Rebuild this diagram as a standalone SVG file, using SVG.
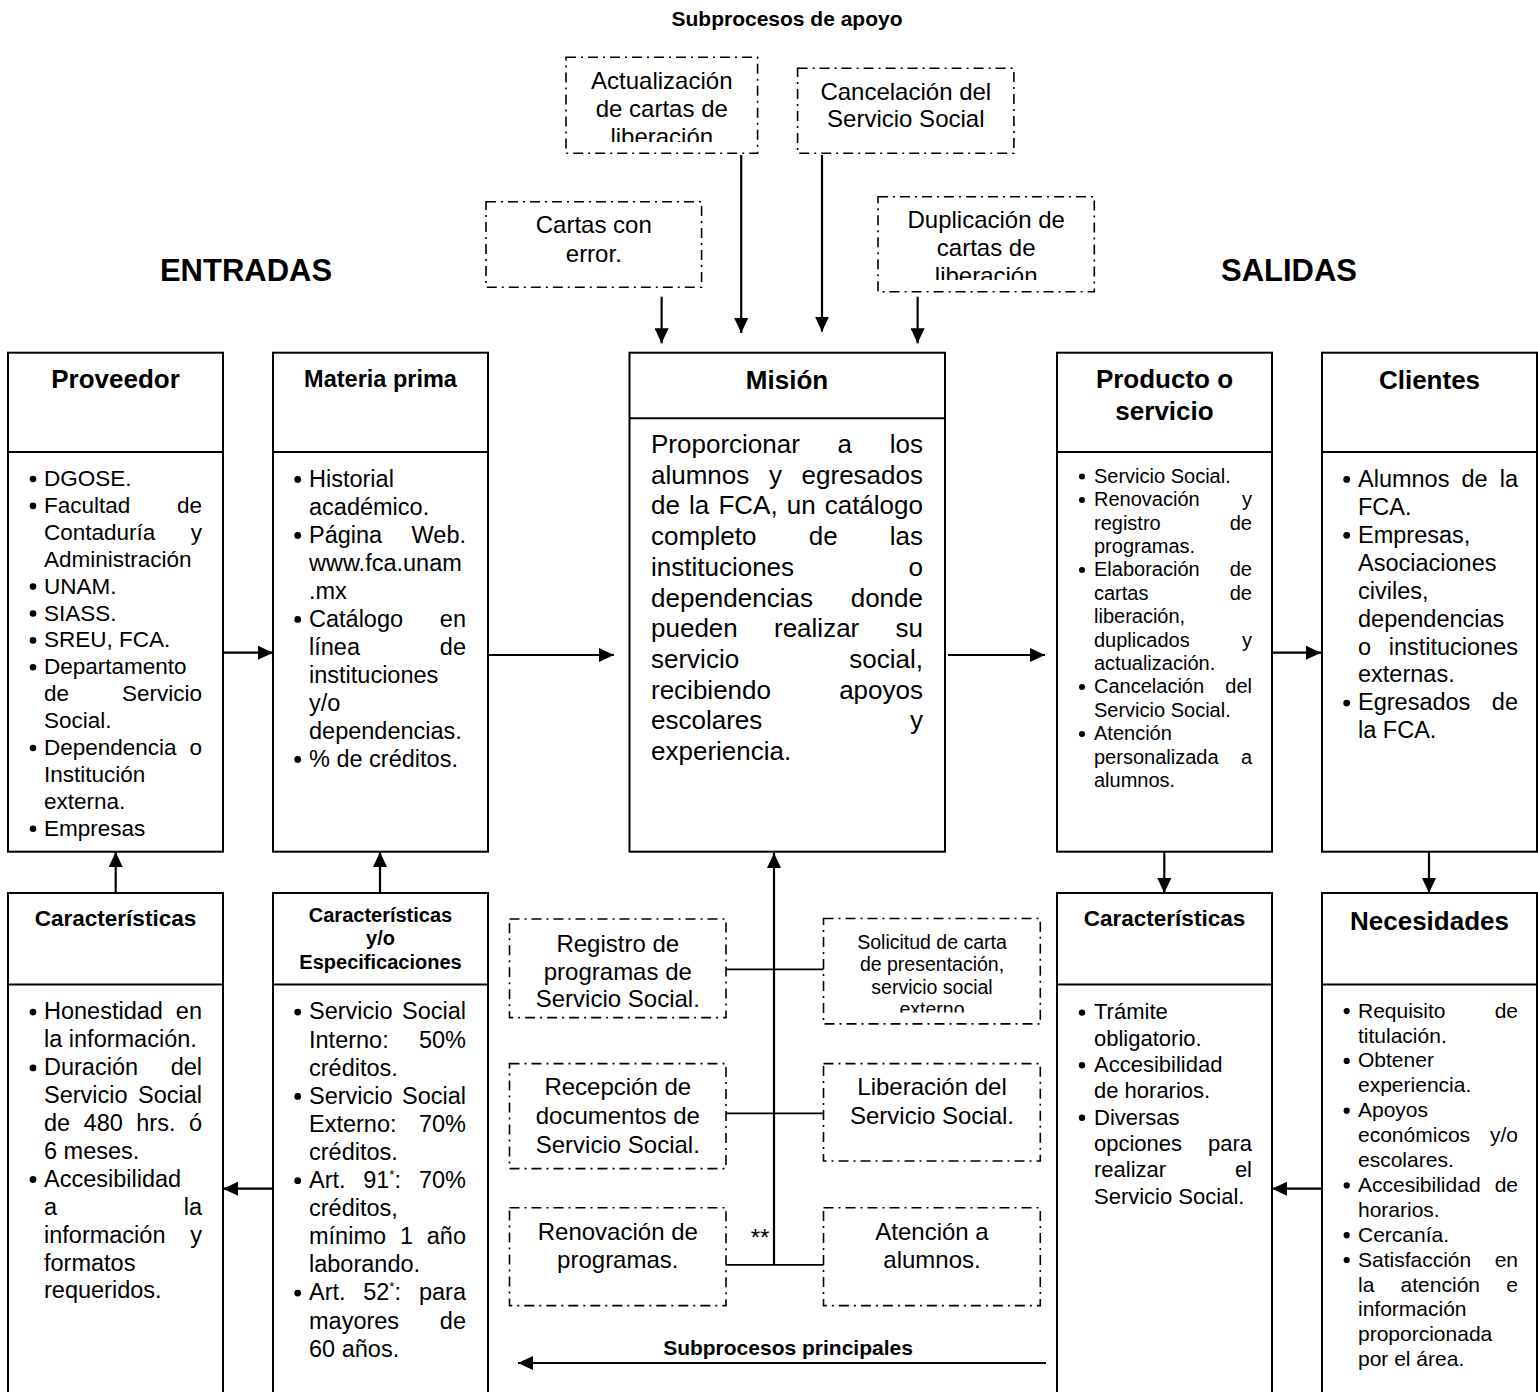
<svg xmlns="http://www.w3.org/2000/svg" width="1538" height="1392" viewBox="0 0 1538 1392">
<style>
  text { font-family: "Liberation Sans", Arial, sans-serif; fill: #000; }
  .b { font-weight: bold; }
  .c { text-anchor: middle; }
  .e { text-anchor: end; }
  .box { fill: #fff; stroke: #000; stroke-width: 2; }
  .div { stroke: #000; stroke-width: 2; }
  .dash { fill: #fff; stroke: #000; stroke-width: 1.6; stroke-dasharray: 10 5 2 5; }
  .ln { fill: none; stroke: #000; stroke-width: 2.2; }
  .thin { fill: none; stroke: #000; stroke-width: 1.8; }
  .arr { marker-end: url(#ah); }
  .f26 { font-size: 26px; }
  .f235 { font-size: 23.5px; }
  .f225 { font-size: 22.5px; }
  .f22 { font-size: 22px; }
  .f21 { font-size: 21px; }
  .f20 { font-size: 20px; }
  .f24 { font-size: 24px; }
  .f195 { font-size: 19.5px; }
</style>
<defs>
  <marker id="ah" markerUnits="userSpaceOnUse" markerWidth="15" markerHeight="14" refX="15" refY="7" orient="auto">
    <path d="M0,0 L15,7 L0,14 Z" fill="#000"/>
  </marker>
  <clipPath id="clipAct"><rect x="566" y="57" width="191" height="85"/></clipPath>
  <clipPath id="clipDup"><rect x="879" y="197" width="214" height="83"/></clipPath>
  <clipPath id="clipSol"><rect x="824" y="919" width="216" height="93.5"/></clipPath>
</defs>
<rect width="1538" height="1392" fill="#fff"/>

<!-- headings -->
<text class="b c" x="787" y="26" font-size="21">Subprocesos de apoyo</text>
<text class="b c" x="246" y="281" font-size="31">ENTRADAS</text>
<text class="b c" x="1289" y="281" font-size="31">SALIDAS</text>

<!-- connectors -->
<g id="connectors">
  <path class="ln arr" d="M661.6,296.7 V343.3"/>
  <path class="ln arr" d="M741.2,155 V333"/>
  <path class="ln arr" d="M822,155 V331.7"/>
  <path class="ln arr" d="M917.6,296.7 V343.3"/>
  <path class="ln arr" d="M223,652.7 H273"/>
  <path class="ln arr" d="M488,655 H614"/>
  <path class="ln arr" d="M948,655 H1045"/>
  <path class="ln arr" d="M1272,652.7 H1321"/>
  <path class="ln arr" d="M115.7,893 V852"/>
  <path class="ln arr" d="M380,893 V852"/>
  <path class="ln arr" d="M1164.3,852 V893"/>
  <path class="ln arr" d="M1429,852 V893"/>
  <path class="ln arr" d="M273,1188.7 H223"/>
  <path class="ln arr" d="M1322,1188.7 H1272"/>
  <path class="ln arr" d="M1046,1363 H518"/>
  <path class="ln arr" d="M774,1265 V853" stroke-width="2.6"/>
  <path class="thin" d="M726,969.3 H824 M726,1113.4 H824 M726,1264.8 H824"/>
  <text x="760" y="1246" class="c" font-size="24">**</text>
  <text class="b c" x="788" y="1355.4" font-size="21">Subprocesos principales</text>
</g>

<!-- support subprocesses -->
<g id="actualizacion">
  <rect class="dash" x="566" y="57.3" width="191.6" height="96"/>
  <g clip-path="url(#clipAct)" class="f24">
    <text class="c" x="661.8" y="89.3">Actualización</text>
    <text class="c" x="661.8" y="117.3">de cartas de</text>
    <text class="c" x="661.8" y="145.3">liberación</text>
  </g>
</g>
<g id="cancelacion">
  <rect class="dash" x="797.6" y="68.3" width="216.3" height="85"/>
  <text class="c f24" x="905.8" y="100">Cancelación del</text>
  <text class="c f24" x="905.8" y="127.3">Servicio Social</text>
</g>
<g id="cartas-error">
  <rect class="dash" x="486" y="201.7" width="215.6" height="85.6"/>
  <text class="c f24" x="593.8" y="233.3">Cartas con</text>
  <text class="c f24" x="593.8" y="261.7">error.</text>
</g>
<g id="duplicacion">
  <rect class="dash" x="878" y="196.7" width="216.3" height="95"/>
  <g clip-path="url(#clipDup)" class="f24">
    <text class="c" x="986.2" y="228.3">Duplicación de</text>
    <text class="c" x="986.2" y="256">cartas de</text>
    <text class="c" x="986.2" y="283.7">liberación</text>
  </g>
</g>

<!-- Proveedor -->
<g id="proveedor">
  <rect class="box" x="8" y="352.7" width="215" height="499"/>
  <line class="div" x1="8" y1="452" x2="223" y2="452"/>
  <text class="b c f26" x="115.5" y="388.3">Proveedor</text>
  <g class="f225" fill="#000">
    <circle cx="33" cy="479" r="3.3"/><text x="44" y="486">DGOSE.</text>
    <circle cx="33" cy="505.9" r="3.3"/><text x="44" y="512.9">Facultad</text><text class="e" x="202" y="512.9">de</text>
    <text x="44" y="539.8">Contaduría</text><text class="e" x="202" y="539.8">y</text>
    <text x="44" y="566.7">Administración</text>
    <circle cx="33" cy="586.6" r="3.3"/><text x="44" y="593.6">UNAM.</text>
    <circle cx="33" cy="613.5" r="3.3"/><text x="44" y="620.5">SIASS.</text>
    <circle cx="33" cy="640.4" r="3.3"/><text x="44" y="647.4">SREU, FCA.</text>
    <circle cx="33" cy="667.3" r="3.3"/><text x="44" y="674.3">Departamento</text>
    <text x="44" y="701.2">de</text><text class="e" x="202" y="701.2">Servicio</text>
    <text x="44" y="728.1">Social.</text>
    <circle cx="33" cy="748" r="3.3"/><text x="44" y="755">Dependencia</text><text class="e" x="202" y="755">o</text>
    <text x="44" y="781.9">Institución</text>
    <text x="44" y="808.8">externa.</text>
    <circle cx="33" cy="828.7" r="3.3"/><text x="44" y="835.7">Empresas</text>
  </g>
</g>

<!-- Materia prima -->
<g id="materia-prima">
  <rect class="box" x="273" y="352.7" width="215" height="499"/>
  <line class="div" x1="273" y1="452" x2="488" y2="452"/>
  <text class="b c" x="380.5" y="386.7" font-size="23.5">Materia prima</text>
  <g class="f235" fill="#000">
    <circle cx="297.7" cy="479.4" r="3.4"/><text x="309" y="486.7">Historial</text>
    <text x="309" y="514.7">académico.</text>
    <circle cx="297.7" cy="535.4" r="3.4"/><text x="309" y="542.7">Página</text><text class="e" x="466" y="542.7">Web.</text>
    <text x="309" y="570.7">www.fca.unam</text>
    <text x="309" y="598.7">.mx</text>
    <circle cx="297.7" cy="619.4" r="3.4"/><text x="309" y="626.7">Catálogo</text><text class="e" x="466" y="626.7">en</text>
    <text x="309" y="654.7">línea</text><text class="e" x="466" y="654.7">de</text>
    <text x="309" y="682.7">instituciones</text>
    <text x="309" y="710.7">y/o</text>
    <text x="309" y="738.7">dependencias.</text>
    <circle cx="297.7" cy="759.4" r="3.4"/><text x="309" y="766.7">% de créditos.</text>
  </g>
</g>

<!-- Misión -->
<g id="mision">
  <rect class="box" x="629.5" y="352.7" width="315.5" height="499"/>
  <line class="div" x1="629.5" y1="418.3" x2="945" y2="418.3"/>
  <text class="b c f26" x="787" y="389">Misión</text>
  <g class="f26">
    <text x="651" y="453">Proporcionar</text><text x="837.6" y="453">a</text><text class="e" x="923" y="453">los</text>
    <text x="651" y="483.7">alumnos</text><text x="768.9" y="483.7">y</text><text class="e" x="923" y="483.7">egresados</text>
    <text x="651" y="514.4">de</text><text x="689" y="514.4">la</text><text x="718.4" y="514.4">FCA,</text><text x="786.7" y="514.4">un</text><text class="e" x="923" y="514.4">catálogo</text>
    <text x="651" y="545.1">completo</text><text x="808.7" y="545.1">de</text><text class="e" x="923" y="545.1">las</text>
    <text x="651" y="575.8">instituciones</text><text class="e" x="923" y="575.8">o</text>
    <text x="651" y="606.5">dependencias</text><text class="e" x="923" y="606.5">donde</text>
    <text x="651" y="637.2">pueden</text><text x="774" y="637.2">realizar</text><text class="e" x="923" y="637.2">su</text>
    <text x="651" y="667.9">servicio</text><text class="e" x="923" y="667.9">social,</text>
    <text x="651" y="698.6">recibiendo</text><text class="e" x="923" y="698.6">apoyos</text>
    <text x="651" y="729.3">escolares</text><text class="e" x="923" y="729.3">y</text>
    <text x="651" y="760">experiencia.</text>
  </g>
</g>

<!-- Producto o servicio -->
<g id="producto">
  <rect class="box" x="1057" y="352.7" width="215" height="499"/>
  <line class="div" x1="1057" y1="452" x2="1272" y2="452"/>
  <text class="b c f26" x="1164.5" y="388.3">Producto o</text>
  <text class="b c f26" x="1164.5" y="420">servicio</text>
  <g class="f20" fill="#000">
    <circle cx="1082" cy="476.5" r="3"/><text x="1094" y="482.7">Servicio Social.</text>
    <circle cx="1082" cy="499.9" r="3"/><text x="1094" y="506.1">Renovación</text><text class="e" x="1252" y="506.1">y</text>
    <text x="1094" y="529.5">registro</text><text class="e" x="1252" y="529.5">de</text>
    <text x="1094" y="552.9">programas.</text>
    <circle cx="1082" cy="570.1" r="3"/><text x="1094" y="576.3">Elaboración</text><text class="e" x="1252" y="576.3">de</text>
    <text x="1094" y="599.7">cartas</text><text class="e" x="1252" y="599.7">de</text>
    <text x="1094" y="623.1">liberación,</text>
    <text x="1094" y="646.5">duplicados</text><text class="e" x="1252" y="646.5">y</text>
    <text x="1094" y="669.9">actualización.</text>
    <circle cx="1082" cy="687.1" r="3"/><text x="1094" y="693.3">Cancelación</text><text class="e" x="1252" y="693.3">del</text>
    <text x="1094" y="716.7">Servicio Social.</text>
    <circle cx="1082" cy="733.9" r="3"/><text x="1094" y="740.1">Atención</text>
    <text x="1094" y="763.5">personalizada</text><text class="e" x="1252" y="763.5">a</text>
    <text x="1094" y="786.9">alumnos.</text>
  </g>
</g>

<!-- Clientes -->
<g id="clientes">
  <rect class="box" x="1322" y="352.7" width="215" height="499"/>
  <line class="div" x1="1322" y1="452" x2="1537" y2="452"/>
  <text class="b c f26" x="1429.5" y="389.3">Clientes</text>
  <g class="f235" fill="#000">
    <circle cx="1346.7" cy="479.4" r="3.4"/><text x="1358" y="486.7">Alumnos</text><text x="1461.5" y="486.7">de</text><text class="e" x="1518" y="486.7">la</text>
    <text x="1358" y="514.7">FCA.</text>
    <circle cx="1346.7" cy="535.3" r="3.4"/><text x="1358" y="542.6">Empresas,</text>
    <text x="1358" y="570.6">Asociaciones</text>
    <text x="1358" y="598.5">civiles,</text>
    <text x="1358" y="626.5">dependencias</text>
    <text x="1358" y="654.5">o</text><text class="e" x="1518" y="654.5">instituciones</text>
    <text x="1358" y="682.4">externas.</text>
    <circle cx="1346.7" cy="703.1" r="3.4"/><text x="1358" y="710.4">Egresados</text><text class="e" x="1518" y="710.4">de</text>
    <text x="1358" y="738.3">la FCA.</text>
  </g>
</g>

<!-- Características (entradas) -->
<g id="caracteristicas-proveedor">
  <rect class="box" x="8" y="893" width="215" height="520"/>
  <line class="div" x1="8" y1="984.5" x2="223" y2="984.5"/>
  <text class="b c f225" x="115.5" y="926">Características</text>
  <g class="f235" fill="#000">
    <circle cx="33" cy="1012.1" r="3.4"/><text x="44" y="1019.4">Honestidad</text><text class="e" x="202" y="1019.4">en</text>
    <text x="44" y="1047.3">la información.</text>
    <circle cx="33" cy="1067.9" r="3.4"/><text x="44" y="1075.2">Duración</text><text class="e" x="202" y="1075.2">del</text>
    <text x="44" y="1103.1">Servicio</text><text class="e" x="202" y="1103.1">Social</text>
    <text x="44" y="1131">de</text><text x="83.6" y="1131">480</text><text x="136.3" y="1131">hrs.</text><text class="e" x="202" y="1131">ó</text>
    <text x="44" y="1158.9">6 meses.</text>
    <circle cx="33" cy="1179.5" r="3.4"/><text x="44" y="1186.8">Accesibilidad</text>
    <text x="44" y="1214.7">a</text><text class="e" x="202" y="1214.7">la</text>
    <text x="44" y="1242.6">información</text><text class="e" x="202" y="1242.6">y</text>
    <text x="44" y="1270.5">formatos</text>
    <text x="44" y="1298.4">requeridos.</text>
  </g>
</g>

<!-- Características y/o Especificaciones -->
<g id="especificaciones">
  <rect class="box" x="273" y="893" width="215" height="520"/>
  <line class="div" x1="273" y1="984.5" x2="488" y2="984.5"/>
  <text class="b c f20" x="380.5" y="921.9">Características</text>
  <text class="b c f20" x="380.5" y="945">y/o</text>
  <text class="b c f20" x="380.5" y="969.3">Especificaciones</text>
  <g class="f235" fill="#000">
    <circle cx="297.7" cy="1012.1" r="3.4"/><text x="309" y="1019.4">Servicio</text><text class="e" x="466" y="1019.4">Social</text>
    <text x="309" y="1047.5">Interno:</text><text class="e" x="466" y="1047.5">50%</text>
    <text x="309" y="1075.6">créditos.</text>
    <circle cx="297.7" cy="1096.4" r="3.4"/><text x="309" y="1103.7">Servicio</text><text class="e" x="466" y="1103.7">Social</text>
    <text x="309" y="1131.8">Externo:</text><text class="e" x="466" y="1131.8">70%</text>
    <text x="309" y="1159.9">créditos.</text>
    <circle cx="297.7" cy="1180.7" r="3.4"/><text x="309" y="1188">Art.</text><text x="363.2" y="1188">91<tspan font-size="13" dy="-9">*</tspan><tspan dy="9">:</tspan></text><text class="e" x="466" y="1188">70%</text>
    <text x="309" y="1216.1">créditos,</text>
    <text x="309" y="1244.2">mínimo</text><text x="399.9" y="1244.2">1</text><text class="e" x="466" y="1244.2">año</text>
    <text x="309" y="1272.3">laborando.</text>
    <circle cx="297.7" cy="1293.1" r="3.4"/><text x="309" y="1300.4">Art.</text><text x="363.2" y="1300.4">52<tspan font-size="13" dy="-9">*</tspan><tspan dy="9">:</tspan></text><text class="e" x="466" y="1300.4">para</text>
    <text x="309" y="1328.5">mayores</text><text class="e" x="466" y="1328.5">de</text>
    <text x="309" y="1356.6">60 años.</text>
  </g>
</g>

<!-- main subprocesses -->
<g id="registro">
  <rect class="dash" x="509.5" y="919" width="216.5" height="98.6"/>
  <text class="c f24" x="617.8" y="952">Registro de</text>
  <text class="c f24" x="617.8" y="979.6">programas de</text>
  <text class="c f24" x="617.8" y="1007">Servicio Social.</text>
</g>
<g id="solicitud">
  <rect class="dash" x="823.5" y="918.5" width="216.8" height="105.4"/>
  <g clip-path="url(#clipSol)" class="f195">
    <text class="c" x="932" y="948.5">Solicitud de carta</text>
    <text class="c" x="932" y="971">de presentación,</text>
    <text class="c" x="932" y="993.5">servicio social</text>
    <text class="c" x="932" y="1016">externo</text>
  </g>
</g>
<g id="recepcion">
  <rect class="dash" x="509.5" y="1063.6" width="216.5" height="105"/>
  <text class="c f24" x="617.8" y="1095.4">Recepción de</text>
  <text class="c f24" x="617.8" y="1123.8">documentos de</text>
  <text class="c f24" x="617.8" y="1152.5">Servicio Social.</text>
</g>
<g id="liberacion">
  <rect class="dash" x="823.5" y="1063.6" width="216.8" height="97.4"/>
  <text class="c f24" x="932" y="1095.4">Liberación del</text>
  <text class="c f24" x="932" y="1123.8">Servicio Social.</text>
</g>
<g id="renovacion">
  <rect class="dash" x="509.5" y="1207.8" width="216.5" height="97.8"/>
  <text class="c f24" x="617.8" y="1240">Renovación de</text>
  <text class="c f24" x="617.8" y="1268">programas.</text>
</g>
<g id="atencion">
  <rect class="dash" x="823.5" y="1207.8" width="216.8" height="97.8"/>
  <text class="c f24" x="932" y="1240">Atención a</text>
  <text class="c f24" x="932" y="1268">alumnos.</text>
</g>

<!-- Características (salidas) -->
<g id="caracteristicas-producto">
  <rect class="box" x="1057" y="893" width="215" height="520"/>
  <line class="div" x1="1057" y1="984.5" x2="1272" y2="984.5"/>
  <text class="b c f225" x="1164.5" y="926">Características</text>
  <g class="f22" fill="#000">
    <circle cx="1082" cy="1012.6" r="3.2"/><text x="1094" y="1019.4">Trámite</text>
    <text x="1094" y="1045.7">obligatorio.</text>
    <circle cx="1082" cy="1065.2" r="3.2"/><text x="1094" y="1072">Accesibilidad</text>
    <text x="1094" y="1098.3">de horarios.</text>
    <circle cx="1082" cy="1117.8" r="3.2"/><text x="1094" y="1124.6">Diversas</text>
    <text x="1094" y="1150.9">opciones</text><text class="e" x="1252" y="1150.9">para</text>
    <text x="1094" y="1177.2">realizar</text><text class="e" x="1252" y="1177.2">el</text>
    <text x="1094" y="1203.5">Servicio Social.</text>
  </g>
</g>

<!-- Necesidades -->
<g id="necesidades">
  <rect class="box" x="1322" y="893" width="215" height="520"/>
  <line class="div" x1="1322" y1="984.5" x2="1537" y2="984.5"/>
  <text class="b c f26" x="1429.5" y="929.5">Necesidades</text>
  <g class="f21" fill="#000">
    <circle cx="1346.7" cy="1011.1" r="3.1"/><text x="1358" y="1017.6">Requisito</text><text class="e" x="1518" y="1017.6">de</text>
    <text x="1358" y="1042.5">titulación.</text>
    <circle cx="1346.7" cy="1060.9" r="3.1"/><text x="1358" y="1067.4">Obtener</text>
    <text x="1358" y="1092.3">experiencia.</text>
    <circle cx="1346.7" cy="1110.7" r="3.1"/><text x="1358" y="1117.2">Apoyos</text>
    <text x="1358" y="1142.1">económicos</text><text class="e" x="1518" y="1142.1">y/o</text>
    <text x="1358" y="1167">escolares.</text>
    <circle cx="1346.7" cy="1185.4" r="3.1"/><text x="1358" y="1191.9">Accesibilidad</text><text class="e" x="1518" y="1191.9">de</text>
    <text x="1358" y="1216.8">horarios.</text>
    <circle cx="1346.7" cy="1235.2" r="3.1"/><text x="1358" y="1241.7">Cercanía.</text>
    <circle cx="1346.7" cy="1260.1" r="3.1"/><text x="1358" y="1266.6">Satisfacción</text><text class="e" x="1518" y="1266.6">en</text>
    <text x="1358" y="1291.5">la</text><text x="1400.6" y="1291.5">atención</text><text class="e" x="1518" y="1291.5">e</text>
    <text x="1358" y="1316.4">información</text>
    <text x="1358" y="1341.3">proporcionada</text>
    <text x="1358" y="1366.2">por el área.</text>
  </g>
</g>
</svg>
